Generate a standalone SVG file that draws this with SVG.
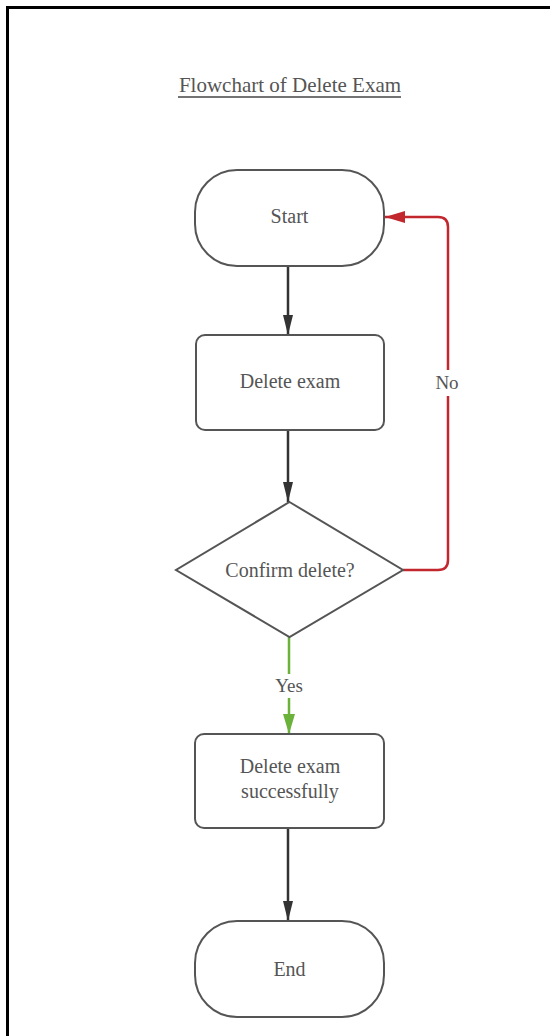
<svg xmlns="http://www.w3.org/2000/svg" width="550" height="1036" viewBox="0 0 550 1036">
<defs>
<style>
.node{fill:#ffffff;stroke:#555555;stroke-width:2}
.lbl{font-size:20px;fill:#555555;text-anchor:middle}
.edge{fill:none;stroke-width:2.5}
</style>
<marker id="ahR" viewBox="0 0 20 12" refX="20" refY="6" markerWidth="20" markerHeight="12" orient="auto" markerUnits="userSpaceOnUse">
<path d="M0,0 L20,6 L0,12 Z" fill="#c1272d"/>
</marker>
<marker id="ahG" viewBox="0 0 20 12" refX="20" refY="6" markerWidth="20" markerHeight="12" orient="auto" markerUnits="userSpaceOnUse">
<path d="M0,0 L20,6 L0,12 Z" fill="#6ab23a"/>
</marker>
<marker id="ahK" viewBox="0 0 20 10" refX="20" refY="5" markerWidth="20" markerHeight="10" orient="auto" markerUnits="userSpaceOnUse">
<path d="M0,0 L20,5 L0,10 Z" fill="#333333"/>
</marker>
</defs>
<rect width="550" height="1036" fill="#ffffff"/>
<path d="M7.5,1036 V7.5 H550" fill="none" stroke="#000000" stroke-width="3"/>
<g font-family="'Liberation Serif', 'Times New Roman', 'DejaVu Serif', serif">
<g id="title">
<text x="290" y="92" class="lbl" style="font-size:21px">Flowchart of Delete Exam</text>
<line x1="178" y1="97" x2="401" y2="97" stroke="#444444" stroke-width="1.5"/>
</g>
<g id="connectors">
<line class="edge" x1="288" y1="266" x2="288" y2="335" stroke="#333333" marker-end="url(#ahK)"/>
<line class="edge" x1="288" y1="430" x2="288" y2="502" stroke="#333333" marker-end="url(#ahK)"/>
<path class="edge" d="M403,570 H438 Q448,570 448,560 V227 Q448,217 438,217 H385" stroke="#c1272d" stroke-width="3" marker-end="url(#ahR)"/>
<rect x="434" y="370" width="28" height="26" fill="#ffffff"/>
<text x="447" y="389" class="lbl" style="font-size:19px">No</text>
<line class="edge" x1="289" y1="637" x2="289" y2="734" stroke="#6ab23a" stroke-width="3" marker-end="url(#ahG)"/>
<rect x="270" y="674" width="38" height="24" fill="#ffffff"/>
<text x="289" y="692" class="lbl" style="font-size:19px">Yes</text>
<line class="edge" x1="288" y1="828" x2="288" y2="921" stroke="#333333" marker-end="url(#ahK)"/>
</g>
<g id="start">
<rect class="node" x="195" y="170" width="189" height="96" rx="42" ry="42"/>
<text x="289.5" y="223" class="lbl">Start</text>
</g>
<g id="delete-exam">
<rect class="node" x="196" y="335" width="188" height="95" rx="9" ry="9"/>
<text x="290" y="388" class="lbl">Delete exam</text>
</g>
<g id="confirm">
<polygon class="node" points="289.5,502 403,570 289.5,637 176,570"/>
<text x="290" y="577" class="lbl">Confirm delete?</text>
</g>
<g id="success">
<rect class="node" x="195" y="734" width="189" height="94" rx="9" ry="9"/>
<text x="290" y="773" class="lbl">Delete exam</text>
<text x="290" y="798" class="lbl">successfully</text>
</g>
<g id="end">
<rect class="node" x="195" y="921" width="189" height="96" rx="42" ry="42"/>
<text x="289.5" y="976" class="lbl">End</text>
</g>
</g>
</svg>
